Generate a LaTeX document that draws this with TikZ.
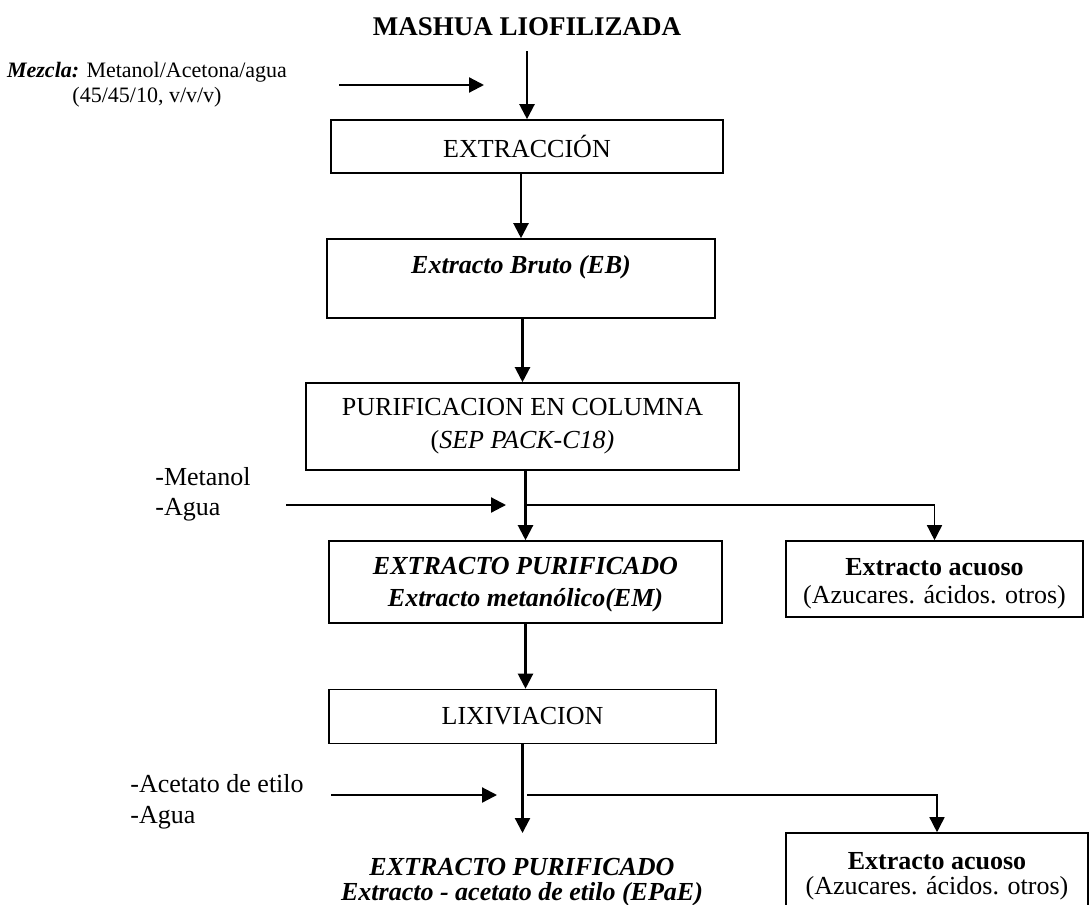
\documentclass[tikz,border=0pt]{standalone}
\usepackage{fontspec}
\setmainfont{Liberation Serif}
\usetikzlibrary{arrows.meta}

\begin{document}
\begin{tikzpicture}[x=0.5pt,y=-0.5pt,
                    flecha/.style = {line width=1.1pt,-{Triangle[width=7.5pt,length=7.5pt]}},
                    rama/.style = {line width=0.75pt,-{Triangle[width=7.5pt,length=7.5pt]}},
                    caja/.style = {draw,line width=0.8pt,inner sep=0pt,align=center},
                    letra/.style = {font=\fontsize{13}{#1}\selectfont},
                    letra/.default = 15,
                    letrabi/.style = {font=\fontsize{13}{#1}\selectfont\bfseries\itshape},
                    letrabi/.default = 15]
                    \useasboundingbox (0,0) rectangle (1090,904);

                    \node[font=\fontsize{13.5}{15}\selectfont\bfseries,anchor=base] (mashua) at (527,36) {MASHUA LIOFILIZADA};
                    \node[font=\fontsize{11}{12.5}\selectfont,align=center,inner sep=0pt] (mezcla) at (147,85)
                        {\textbf{\textit{Mezcla:}} Metanol/Acetona/agua\\(45/45/10, v/v/v)};

                    \node[caja,letra,minimum width=196pt,minimum height=26.5pt] (extraccion) at (527,146.5) {EXTRACCIÓN};
                    \node[caja,letrabi,minimum width=194pt,minimum height=39.5pt,
                          text height=9pt,text depth=14.5pt] (bruto) at (521,278.5) {Extracto Bruto (EB)};
                    \node[caja,letra=16.5,minimum width=216.5pt,minimum height=43.5pt] (purif) at (522.5,426.5)
                        {PURIFICACION EN COLUMNA\\(\textit{SEP PACK-C18)}};
                    \node[caja,letrabi=16,minimum width=196.5pt,minimum height=41pt] (extpur) at (525.5,582)
                        {\rule{0pt}{11.6pt}EXTRACTO PURIFICADO\\Extracto metanólico(EM)};
                    \node[caja,letra=14,minimum width=148.5pt,minimum height=38pt] (acuoso1) at (934.5,579)
                        {\rule{0pt}{12.8pt}\textbf{Extracto acuoso}\\(Azucares. ácidos. otros)};
                    \node[caja,letra,minimum width=193.5pt,minimum height=27pt] (lixiv) at (522.5,716.5) {LIXIVIACION};
                    \node[caja,letra=12.5,minimum width=151pt,minimum height=43.5pt] (acuoso2) at (937,876.5)
                        {\textbf{Extracto acuoso}\\(Azucares. ácidos. otros)};
                    \node[letrabi=12.5,align=center,inner sep=0pt] (extfinal) at (522,882)
                        {EXTRACTO PURIFICADO\\Extracto - acetato de etilo (EPaE)};

                    \node[letra=15,align=left,inner sep=0pt,anchor=west] (metanol) at (155,494) {-Metanol\\-Agua};
                    \node[letra=15.5,align=left,inner sep=0pt,anchor=west] (acetato) at (130,801.5) {-Acetato de etilo\\-Agua};

                    \coordinate (m1) at (339,85);
                    \coordinate (m2) at (484,85);
                    \coordinate (s1) at (286,505);
                    \coordinate (s2) at (506,505);
                    \coordinate (r1) at (527,505);
                    \coordinate (a1) at (331,795);
                    \coordinate (a2) at (497,795);
                    \coordinate (r2) at (527,795);
                    \coordinate (llegada) at (522,833);

                    \draw[flecha] ([yshift=-4pt]mashua.south) -- (extraccion.north);
                    \draw[flecha] (m1) -- (m2);
                    \draw[flecha] (bruto.north |- extraccion.south) -- (bruto.north);
                    \draw[flecha] (purif.north |- bruto.south) -- (purif.north);
                    \draw[flecha] (extpur.north |- purif.south) -- (extpur.north);
                    \draw[flecha] (s1) -- (s2);
                    \draw[rama] (r1) -| (acuoso1.north);
                    \draw[flecha] (extpur.south) -- (extpur.south |- lixiv.north);
                    \draw[flecha] (lixiv.south) -- (lixiv.south |- llegada);
                    \draw[flecha] (a1) -- (a2);
                    \draw[rama] (r2) -| (acuoso2.north);
                \end{tikzpicture}
\end{document}
